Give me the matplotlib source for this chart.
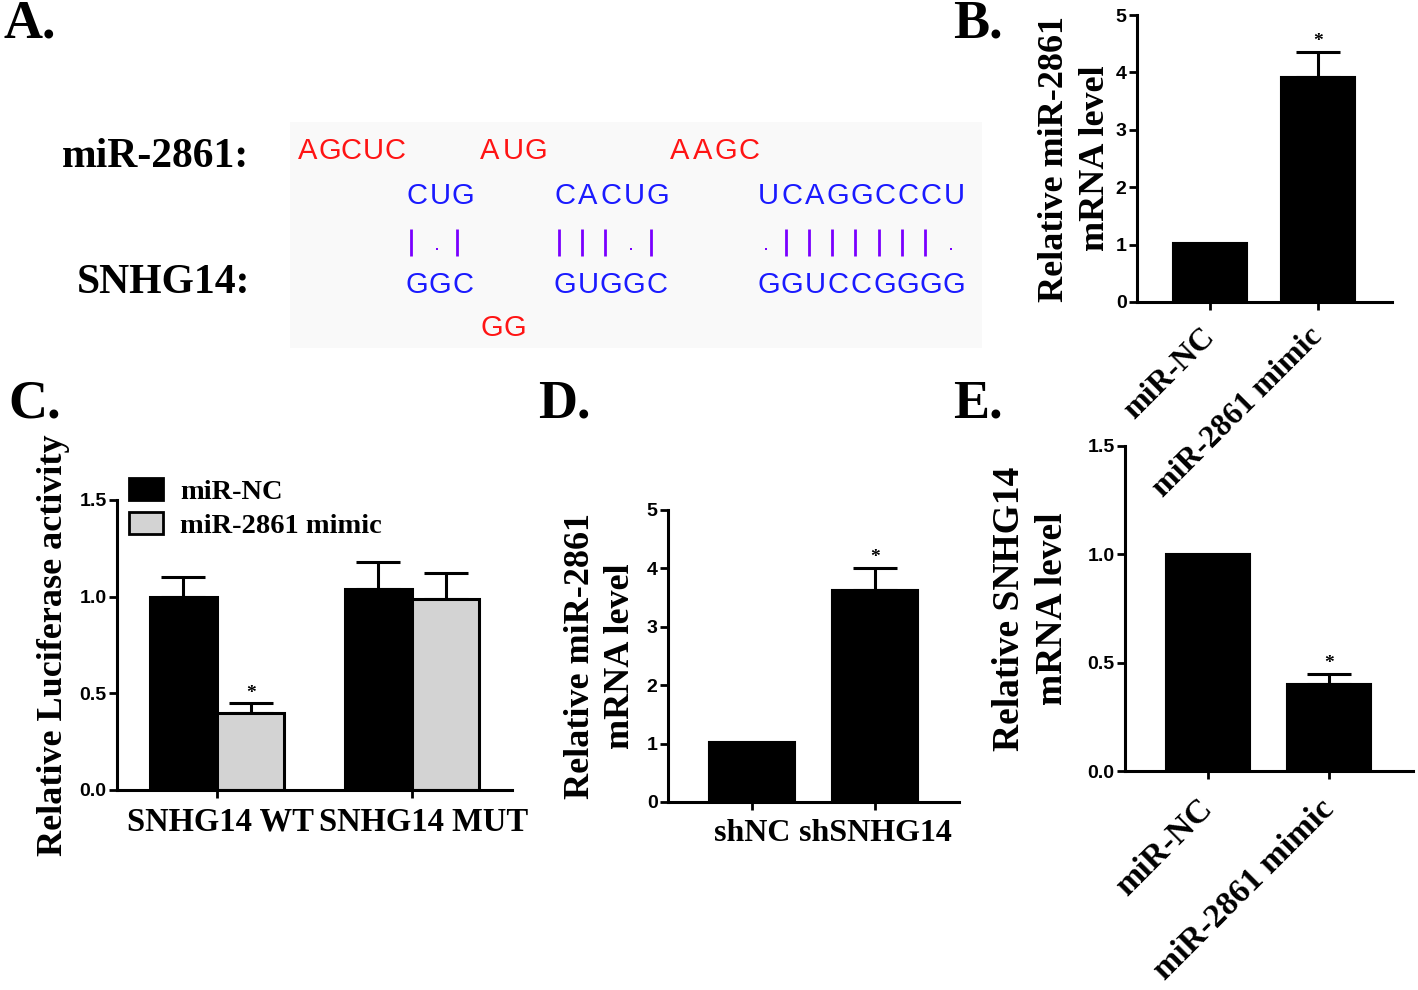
import matplotlib
matplotlib.use("Agg")
import matplotlib.pyplot as plt
from matplotlib.patches import Patch, Rectangle
from matplotlib.transforms import ScaledTranslation
import numpy as np

W, H = 1418, 990
SERIF = "Liberation Serif"
SANS = "Liberation Sans"

# ---------------- data ----------------
# Panel A: sequences (text, start-x-px)
seq_mir_unpaired = [("AGCUC", 297), ("AUG", 478), ("AAGC", 668)]
seq_mir_paired = [("CUG", 405), ("CACUG", 553), ("UCAGGCCCU", 757)]
pair_marks = ["|.|", "|||.|", ".|||||||."]
seq_snhg_paired = [("GGC", 405), ("GUGGC", 553), ("GGUCCGGGG", 757)]
seq_snhg_unpaired = [("GG", 480)]

# Panel B
b_cats = ["miR-NC", "miR-2861 mimic"]
b_vals = [1.02, 3.92]
b_err = [0.0, 0.44]
b_sig = [False, True]

# Panel C
c_groups = ["SNHG14 WT", "SNHG14 MUT"]
c_series = ["miR-NC", "miR-2861 mimic"]
c_nc = [1.00, 1.04]
c_nc_err = [0.10, 0.14]
c_mim = [0.40, 0.99]
c_mim_err = [0.05, 0.13]
c_mim_sig = [True, False]

# Panel D
d_cats = ["shNC", "shSNHG14"]
d_vals = [1.03, 3.63]
d_err = [0.0, 0.38]
d_sig = [False, True]

# Panel E
e_cats = ["miR-NC", "miR-2861 mimic"]
e_vals = [1.00, 0.40]
e_err = [0.0, 0.05]
e_sig = [False, True]

fig = plt.figure(figsize=(W / 100, H / 100), dpi=100)


def ax_px(l, t, r, b):
    return fig.add_axes([l / W, 1 - b / H, (r - l) / W, (b - t) / H])


# ---------------- Panel A ----------------
axA = fig.add_axes([0, 0, 1, 1])
axA.set_xlim(0, W)
axA.set_ylim(H, 0)
axA.axis("off")
axA.add_patch(Rectangle((290, 122), 692, 226, facecolor="#f9f9f9", edgecolor="none"))

RED = "#ff1414"
BLUE = "#1a1aff"
PURPLE = "#7a00ff"
PITCH = 23.2
SEQ_FS = 21


def draw_seq(text, x0, y, color, pitch=PITCH):
    for i, ch in enumerate(text):
        axA.text(x0 + pitch * (i + 0.5), y, ch, ha="center", va="center",
                 fontsize=SEQ_FS, family=SANS, color=color)


for s, x0 in seq_mir_unpaired:
    draw_seq(s, x0, 151, RED, pitch=21.8 if len(s) == 5 else PITCH)
for s, x0 in seq_mir_paired:
    draw_seq(s, x0, 196, BLUE)
for s, x0 in seq_snhg_paired:
    draw_seq(s, x0, 285, BLUE)
for s, x0 in seq_snhg_unpaired:
    draw_seq(s, x0, 328, RED)
for (s, x0), marks in zip(seq_mir_paired, pair_marks):
    for i, m in enumerate(marks):
        xc = x0 + PITCH * (i + 0.5) - 6
        if m == "|":
            axA.plot([xc, xc], [229, 256], color=PURPLE, lw=2.0, solid_capstyle="butt")
        else:
            axA.plot([xc + 3], [249], marker="s", ms=2.0, color=PURPLE, mew=0)

axA.text(62, 157, "miR-2861:", ha="left", va="center", fontsize=30,
         family=SERIF, weight="bold")
axA.text(77, 283, "SNHG14:", ha="left", va="center", fontsize=30,
         family=SERIF, weight="bold")

for lab, x, y in [("A.", 4, 25), ("B.", 953, 25), ("C.", 8, 405),
                  ("D.", 538, 405), ("E.", 953, 405)]:
    axA.text(x, y, lab, ha="left", va="center", fontsize=39,
             family=SERIF, weight="bold")


def style(ax, ylim, yticks, yfmt):
    for sp in ["top", "right"]:
        ax.spines[sp].set_visible(False)
    for sp in ["left", "bottom"]:
        ax.spines[sp].set_linewidth(2.2)
    ax.set_ylim(*ylim)
    ax.set_yticks(yticks)
    ax.set_yticklabels([yfmt.format(v) for v in yticks], family=SANS,
                       weight="bold", fontsize=14)
    ax.tick_params(axis="both", length=6, width=2.0, direction="out", pad=1.5)
    ax.patch.set_alpha(0)


def err_up(ax, x, v, e, sig, fs=14):
    x = np.asarray(x, float)
    v = np.asarray(v, float)
    e = np.asarray(e, float)
    m = e > 0
    ax.errorbar(x[m], v[m], yerr=[np.zeros(m.sum()), e[m]], fmt="none",
                ecolor="black", elinewidth=2.2, capsize=16, capthick=2.2, zorder=1)
    for xi, vi, ei, si in zip(x, v, e, sig):
        if si:
            ax.annotate("*", (xi, vi + ei), xytext=(0, 1), textcoords="offset points",
                        ha="center", va="bottom", fontsize=fs, family=SERIF, weight="bold")


# ---------------- Panel B ----------------
axB = ax_px(1137, 15, 1392, 302)
xb = np.arange(len(b_cats))
axB.bar(xb, b_vals, width=0.69, color="black", edgecolor="black", lw=1.5, zorder=2)
err_up(axB, xb, b_vals, b_err, b_sig)
axB.set_xlim(-0.676, 1.685)
style(axB, (0, 5), [0, 1, 2, 3, 4, 5], "{:.0f}")
axB.set_xticks(xb)
axB.set_xticklabels(b_cats, rotation=45, ha="right", va="center",
                    rotation_mode="anchor", family=SERIF, weight="bold", fontsize=23)
axB.tick_params(axis="x", pad=16)
axB.set_ylabel("Relative miR-2861\nmRNA level", family=SERIF, weight="bold",
               fontsize=26, linespacing=1.3)
axB.yaxis.set_label_coords(-0.10, 0.5)

# ---------------- Panel C ----------------
axC = ax_px(117, 500, 512, 790)
xc = np.arange(len(c_groups))
wc = 0.345
axC.bar(xc - wc / 2, c_nc, width=wc, color="black", edgecolor="black", lw=2.2, zorder=2)
axC.bar(xc + wc / 2, c_mim, width=wc, color="#d3d3d3", edgecolor="black", lw=2.2, zorder=2)
err_up(axC, xc - wc / 2, c_nc, c_nc_err, [False, False])
err_up(axC, xc + wc / 2, c_mim, c_mim_err, c_mim_sig)
axC.set_xlim(-0.513, 1.513)
style(axC, (0, 1.5), [0.0, 0.5, 1.0, 1.5], "{:.1f}")
axC.set_xticks(xc)
axC.set_xticklabels(c_groups, family=SERIF, weight="bold", fontsize=23.5)
axC.tick_params(axis="x", pad=6)
for lab, dx in zip(axC.get_xticklabels(), [3, 12]):
    lab.set_transform(lab.get_transform() + ScaledTranslation(dx / 100, 0, fig.dpi_scale_trans))
axC.set_ylabel("Relative Luciferase activity", family=SERIF, weight="bold", fontsize=26)
axC.yaxis.set_label_coords(-0.12, 0.5)
handles = [Patch(facecolor="black", edgecolor="black", lw=2, label=c_series[0]),
           Patch(facecolor="#d3d3d3", edgecolor="black", lw=2, label=c_series[1])]
axC.legend(handles=handles, loc="upper left", bbox_to_anchor=(0.03, 1.075),
           frameon=False, prop={"family": SERIF, "weight": "bold", "size": 20.5},
           handlelength=1.2, handleheight=0.8, handletextpad=0.6,
           borderpad=0, borderaxespad=0, labelspacing=0.25)

# ---------------- Panel D ----------------
axD = ax_px(668, 510, 959, 802)
xd = np.arange(len(d_cats))
axD.bar(xd, d_vals, width=0.7, color="black", edgecolor="black", lw=1.5, zorder=2)
err_up(axD, xd, d_vals, d_err, d_sig)
axD.set_xlim(-0.683, 1.683)
style(axD, (0, 5), [0, 1, 2, 3, 4, 5], "{:.0f}")
axD.set_xticks(xd)
axD.set_xticklabels(d_cats, family=SERIF, weight="bold", fontsize=23)
axD.tick_params(axis="x", pad=6)
axD.set_ylabel("Relative miR-2861\nmRNA level", family=SERIF, weight="bold",
               fontsize=26, linespacing=1.3)
axD.yaxis.set_label_coords(-0.105, 0.5)

# ---------------- Panel E ----------------
axE = ax_px(1125, 446, 1413, 771)
xe = np.arange(len(e_cats))
axE.bar(xe, e_vals, width=0.7, color="black", edgecolor="black", lw=1.5, zorder=2)
err_up(axE, xe, e_vals, e_err, e_sig)
axE.set_xlim(-0.686, 1.694)
style(axE, (0, 1.5), [0.0, 0.5, 1.0, 1.5], "{:.1f}")
axE.set_xticks(xe)
axE.set_xticklabels(e_cats, rotation=45, ha="right", va="center",
                    rotation_mode="anchor", family=SERIF, weight="bold", fontsize=24.5)
axE.tick_params(axis="x", pad=18)
axE.set_ylabel("Relative SNHG14\nmRNA level", family=SERIF, weight="bold",
               fontsize=27, linespacing=1.3)
axE.yaxis.set_label_coords(-0.19, 0.5)

fig.savefig("out.png", dpi=100)
